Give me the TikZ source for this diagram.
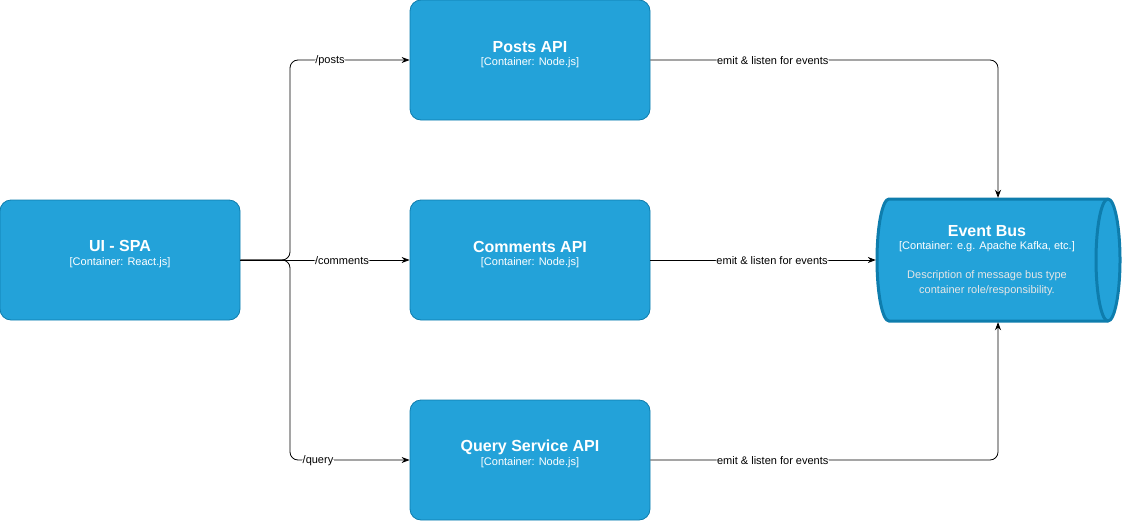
\documentclass[tikz,border=0pt]{standalone}
\usepackage{fontspec}
\setmainfont{Liberation Sans}
\usetikzlibrary{arrows.meta}
\definecolor{cfill}{HTML}{23A2D9}
\definecolor{cstroke}{HTML}{0E7DAD}
\definecolor{cdesc}{HTML}{E6E6E6}
\begin{document}
\begin{tikzpicture}[x=1pt,y=-1pt,
  container/.style={draw=cstroke,fill=cfill,rounded corners=11pt,minimum width=240pt,minimum height=120pt,inner sep=0pt,line width=0.8pt},
  ttl/.style={text=white,font=\bfseries\fontsize{16}{18}\selectfont,inner sep=0pt},
  sub/.style={text=white,font=\fontsize{11}{13}\selectfont,inner sep=0pt},
  conn/.style={draw=black,line width=0.8pt,rounded corners=8pt,-{Stealth[length=8pt,width=6pt]}},
  elab/.style={fill=white,text=black,font=\fontsize{11}{13}\selectfont,inner sep=0.5pt,yshift=-1pt}
]
\useasboundingbox (0,0) rectangle (1124,522);

% boxes
\node[container] (ui) at (120,260) {};
\node[container] (posts) at (530,60) {};
\node[container] (comments) at (530,260) {};
\node[container] (query) at (530,460) {};

\node[ttl] at (120,246) {UI - SPA};
\node[sub] at (120,263) {[Container: React.js]};
\node[ttl] at (530,47) {Posts API};
\node[sub] at (530,63) {[Container: Node.js]};
\node[ttl] at (530,247) {Comments API};
\node[sub] at (530,263) {[Container: Node.js]};
\node[ttl] at (530,447) {Query Service API};
\node[sub] at (530,463) {[Container: Node.js]};

% event bus cylinder
\filldraw[fill=cfill,draw=cstroke,line width=3pt]
  (889,199) -- (1108,199)
  .. controls (1114.6,199) and (1120,226.3) .. (1120,260)
  .. controls (1120,293.7) and (1114.6,321) .. (1108,321)
  -- (889,321)
  .. controls (882.4,321) and (877,293.7) .. (877,260)
  .. controls (877,226.3) and (882.4,199) .. (889,199) -- cycle;
\draw[draw=cstroke,line width=3pt] (1108,199)
  .. controls (1101.4,199) and (1096,226.3) .. (1096,260)
  .. controls (1096,293.7) and (1101.4,321) .. (1108,321);
\node[inner sep=0pt,minimum width=244pt,minimum height=124pt] (bus) at (998,260) {};
\node[ttl] at (987,231) {Event Bus};
\node[sub] at (987,247) {[Container: e.g. Apache Kafka, etc.]};
\node[sub,text=cdesc] at (987,276) {Description of message bus type};
\node[sub,text=cdesc] at (987,291) {container role/responsibility.};

% connectors from UI
\coordinate (split) at (290,260);
\draw[conn] (ui.east) -- (split) |- (posts.west) node[pos=0.667,elab] {/posts};
\draw[conn] (ui.east) -- (split) |- (query.west) node[pos=0.617,elab] {/query};
\draw[conn] (ui.east) -- (comments.west) node[pos=0.6,elab] {/comments};

% connectors to bus
\draw[conn] (posts.east) -| (bus.north) node[pos=0.176,elab] {emit \& listen for events};
\draw[conn] (comments.east) -- (bus.west) node[pos=0.54,elab] {emit \& listen for events};
\draw[conn] (query.east) -| (bus.south) node[pos=0.176,elab] {emit \& listen for events};
\end{tikzpicture}
\end{document}
